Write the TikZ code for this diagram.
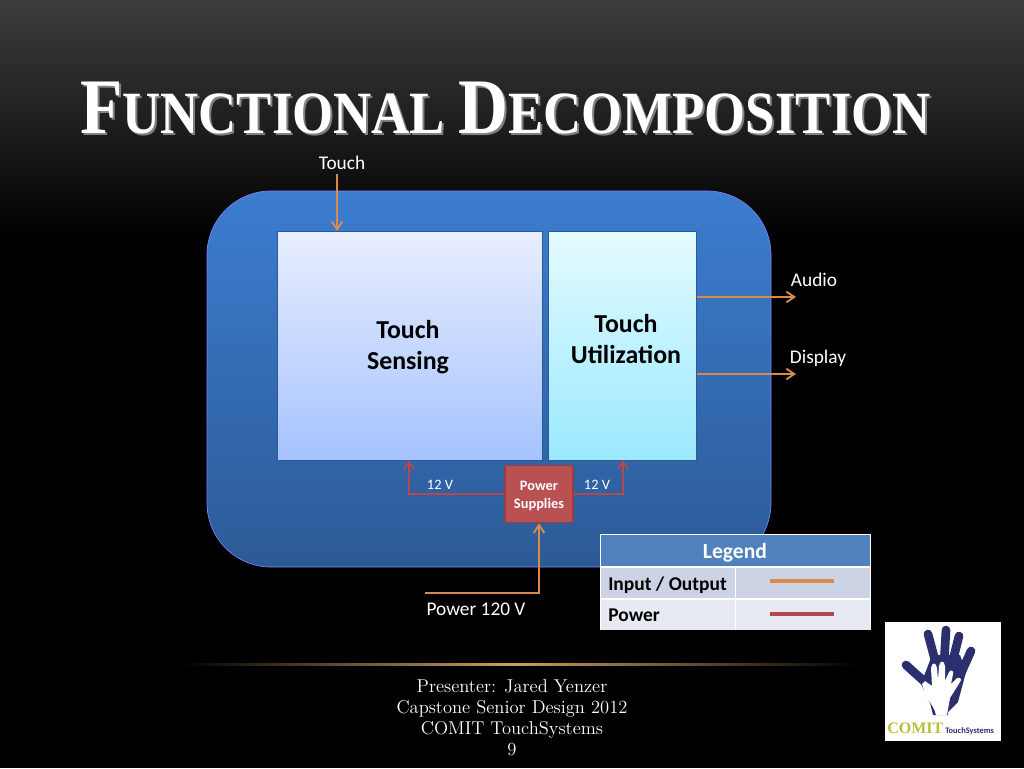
\documentclass[tikz,border=0pt]{standalone}
\usepackage{fontspec}
\setsansfont{Carlito}
\newfontfamily\titlefont{Liberation Serif}
\usetikzlibrary{arrows.meta,calc,positioning}
\definecolor{wireio}{HTML}{D98B4A}
\definecolor{wirepow}{HTML}{B5484A}
\definecolor{hand}{HTML}{2B2F6E}
\definecolor{olive}{HTML}{BDBD3A}
\definecolor{legendhead}{HTML}{4F81BD}
\definecolor{legendrowa}{HTML}{CCD3E4}
\definecolor{legendrowb}{HTML}{E7EAF3}
\definecolor{panelhi}{HTML}{3C7DD0}
\definecolor{panello}{HTML}{2C5A96}
\definecolor{sensehi}{HTML}{E8EEFF}
\definecolor{senselo}{HTML}{A5C3FF}
\definecolor{utilhi}{HTML}{E4FBFF}
\definecolor{utillo}{HTML}{9BE9FF}
\definecolor{goldline}{HTML}{C9A060}
\newcommand{\capletter}[1]{{\fontsize{59}{59}\selectfont #1}}
\newcommand{\titletext}{\scalebox{0.88}[1]{\capletter{F}UNCTIONAL \capletter{D}ECOMPOSITION}}
\tikzset{
  wire/.style={line width=1.4pt, -{Straight Barb[length=6pt,width=8pt]}},
  iowire/.style={wire, draw=wireio},
  powwire/.style={wire, draw=wirepow},
  lbl/.style={white, font=\sffamily\fontsize{14.5}{16}\selectfont, align=center},
  small/.style={white, font=\sffamily\fontsize{10.8}{12}\selectfont},
  blocklbl/.style={font=\sffamily\bfseries\fontsize{19.4}{23.3}\selectfont, align=center},
  headtitle/.style={font=\titlefont\bfseries\fontsize{45}{48}\selectfont, anchor=base},
  rowlbl/.style={font=\sffamily\bfseries\fontsize{14.6}{16}\selectfont, anchor=west, inner sep=0pt},
  finger/.style={line cap=round, draw=hand, line width=6.5pt},
}
\begin{document}
\begin{tikzpicture}[x=0.75pt,y=0.75pt,yscale=-1,xscale=1]
    \useasboundingbox (0,0) rectangle (1024,768);
    %background
    \fill[black] (0,0) rectangle (1024,768);
    \shade[top color=black!76, bottom color=black] (0,0) rectangle (1024,240);
    \shade[left color=black, right color=goldline] (180,663) rectangle (512,665.5);
    \shade[right color=black, left color=goldline] (512,663) rectangle (860,665.5);

    %title
    \node[gray, headtitle] (titleback) at (507.5,135.5) {\titletext};
    \node[white, headtitle] (title) at (505.5,133.5) {\titletext};

    %blue panel
    \shade[rounded corners=48pt, top color=panelhi, bottom color=panello] (207,191) rectangle (771,567);
    \draw[rounded corners=48pt, blue!50!white, line width=0.5pt] (207,191) rectangle (771,567);

    %blocks
    \shade[top color=sensehi, bottom color=senselo, draw=panello] (277,231) rectangle (542,460);
    \shade[top color=utilhi, bottom color=utillo, draw=panello] (548,231) rectangle (696,460);
    \node[blocklbl] (sensing) at (408,347) {Touch\\Sensing};
    \node[blocklbl] (util) at (626,339) {Touch\\Utilization};
    \node (power) [draw=wirepow!85!black, fill=wirepow!95!white, line width=1pt, minimum width=51pt, minimum height=43pt, inner sep=0pt] at (539,494) {};
    \node (powerlbl) [text=white, align=center, font=\sffamily\bfseries\fontsize{10.8}{13.5}\selectfont] at (539,496) {Power\\Supplies};

    %connectors
    \node (touch) [lbl] at (342,163) {Touch};
    \node (audio) [lbl] at (814,280) {Audio};
    \node (display) [lbl] at (818,358) {Display};
    \node (mains) [lbl] at (476,609) {Power 120 V};
    \coordinate (touchin) at (337,174);
    \coordinate (touchend) at (337,231);
    \coordinate (audiostart) at (697,297);
    \coordinate (audioend) at (796,297);
    \coordinate (dispstart) at (697,374);
    \coordinate (dispend) at (796,374);
    \coordinate (mainsstart) at (425,593);
    \coordinate (leftup) at (409,460);
    \coordinate (rightup) at (623,460);
    \draw[iowire] (touchin) -- (touchend);
    \draw[iowire] (audiostart) -- (audioend);
    \draw[iowire] (dispstart) -- (dispend);
    \draw[iowire] (mainsstart) -| (power.south);
    \draw[powwire] (power.west) -| (leftup);
    \draw[powwire] (power.east) -| (rightup);
    \node (vleft) [small] at (440,485) {12 V};
    \node (vright) [small] at (597,485) {12 V};

    %legend
    \fill[white] (600,534) rectangle (871,630);
    \fill[legendhead] (601,535) rectangle (870,566);
    \fill[legendrowa] (601,568) rectangle (735,598);
    \fill[legendrowa] (736,568) rectangle (870,598);
    \fill[legendrowb] (601,600) rectangle (735,630);
    \fill[legendrowb] (736,600) rectangle (870,630);
    \node (legend) [white, font=\sffamily\bfseries\fontsize{16.2}{18}\selectfont] at (735,553) {Legend};
    \node (io) [rowlbl] at (608,585) {Input / Output};
    \node (pow) [rowlbl] at (608,615) {Power};
    \draw[wireio, line width=2.4pt] (770,581) -- (834,581);
    \draw[wirepow, line width=2.4pt] (770,614) -- (834,614);

    %logo
    \fill[white] (885,622) rectangle (1001,741);
    \draw[finger] (928,634) -- (936,664);
    \draw[finger] (946,630) -- (944,664);
    \draw[finger] (959,636) -- (952,664);
    \draw[finger] (971,651) -- (958,680);
    \draw[finger] (906,665) -- (926,683);
    \fill[hand] (921,684) -- (932,655) -- (960,655) -- (966,672) -- (958,702) -- (948,712) -- (948,715) -- (933,715) -- (930,703) -- cycle;
    \fill[white] (936,715) .. controls (935,708) and (929,702) .. (925,694) -- (922,684) -- (925,681) -- (932,686) -- (931,668) .. controls (932,662) and (936,662) .. (937,668) -- (938,680) -- (939,666) .. controls (940,660) and (944,660) .. (945,666) -- (945,681) -- (949,672) .. controls (951,669) and (954,671) .. (953,674) -- (951,684) -- (957,678) .. controls (961,677) and (962,680) .. (960,682) -- (950,698) -- (947,715) -- cycle;
    \node (comit) [text=olive, font=\titlefont\bfseries\fontsize{12}{14}\selectfont, anchor=base west, inner sep=0pt] at (887,733) {COMIT};
    \node (systems) [hand, font=\sffamily\bfseries\fontsize{6.3}{7}\selectfont, anchor=base west, inner sep=0pt] at (945,733) {TouchSystems};

    %footer
    \node (foot) [white, font=\rmfamily\fontsize{13.9}{15.8}\selectfont, align=center, anchor=north] at (512,675) {Presenter: Jared Yenzer\\Capstone Senior Design 2012\\COMIT TouchSystems\\9};
\end{tikzpicture}
\end{document}
